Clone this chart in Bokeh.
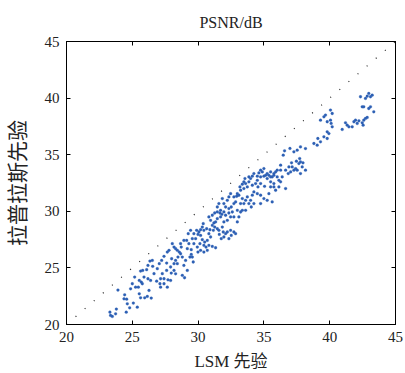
from bokeh.plotting import figure
from bokeh.models import Range1d, LinearAxis, FixedTicker
from bokeh.embed import file_html
from bokeh.resources import INLINE

# LSM prior PSNR (x) vs Laplacian prior PSNR (y)
lsm_psnr = [
    23.30, 23.48, 23.73, 23.35, 23.79, 24.54, 24.80, 25.08, 25.38, 23.91, 24.42, 24.57, 25.53, 25.63, 25.94, 26.14,
    26.44, 25.46, 25.18, 25.53, 25.68, 25.63, 25.79, 26.09, 26.27, 26.19, 26.34, 26.52, 26.19, 26.39, 26.85, 27.10,
    27.15, 27.41, 27.66, 27.71, 27.91, 27.96, 26.90, 27.05, 27.23, 27.41, 27.61, 27.66, 27.79, 27.99, 28.17, 28.29,
    28.17, 28.29, 28.80, 28.97, 28.92, 29.18, 29.05, 28.47, 28.57, 28.72, 28.17, 28.04, 28.29, 28.42, 28.67, 28.92,
    29.13, 29.30, 29.18, 29.48, 29.56, 29.48, 29.68, 29.94, 29.81, 29.68, 30.06, 30.19, 30.32, 30.44, 30.60, 30.82,
    31.08, 31.33, 30.70, 30.95, 30.82, 31.16, 31.26, 31.46, 31.58, 31.91, 32.09, 32.22, 32.47, 32.72, 32.85, 31.96,
    31.84, 31.33, 31.46, 31.71, 31.96, 32.22, 32.47, 32.72, 32.98, 33.10, 33.36, 32.60, 32.34, 32.09, 31.96, 31.71,
    31.46, 31.58, 31.84, 31.96, 32.22, 32.34, 32.47, 32.72, 32.98, 33.23, 33.10, 33.36, 33.48, 33.74, 33.86, 33.99,
    34.12, 34.24, 34.50, 34.75, 35.00, 34.75, 35.25, 35.63, 35.38, 35.51, 35.76, 35.89, 36.14, 36.27, 36.01, 35.76,
    35.51, 35.25, 35.00, 34.75, 34.50, 34.37, 34.12, 33.86, 33.74, 33.61, 33.48, 33.99, 34.24, 34.75, 35.00, 35.25,
    35.51, 35.76, 36.27, 36.39, 36.65, 36.65, 36.90, 37.15, 37.28, 37.41, 37.66, 37.78, 37.91, 38.16, 37.78, 37.53,
    37.03, 36.47, 36.57, 36.98, 37.28, 37.53, 37.78, 38.16, 38.80, 39.05, 39.10, 39.30, 39.56, 39.81, 39.81, 39.94,
    39.30, 39.56, 39.68, 39.81, 40.06, 40.19, 40.11, 40.19, 40.06, 41.20, 41.33, 41.46, 41.71, 41.84, 41.96, 42.09,
    42.22, 42.34, 42.47, 42.59, 42.72, 42.85, 42.97, 43.10, 43.23, 43.10, 42.97, 42.85, 42.72, 42.59, 42.47, 42.54,
    43.35, 40.95,
    30.32, 30.44, 30.65, 30.90, 31.08, 31.20, 30.19, 29.99, 29.89, 30.39, 30.82, 30.95, 31.08, 31.26, 31.46, 31.66,
    31.81, 32.09, 32.34, 32.52, 32.72, 32.85, 32.93, 33.18, 33.36, 33.48, 33.56, 33.86, 34.12, 34.50, 34.62, 34.88,
    35.13, 35.38, 35.63, 35.89, 36.01, 36.27, 34.24, 34.04, 33.61, 33.23, 32.98, 28.67, 28.80, 28.42, 27.91, 27.61,
    27.28, 27.15, 27.41, 26.65, 26.55, 25.89, 25.76, 25.00, 24.87, 25.25, 24.37, 24.62, 29.25, 29.43, 29.56, 29.38,
    29.63, 29.99, 30.19, 30.44, 30.70, 30.50, 30.14, 31.61, 31.76, 32.34, 32.52, 33.23, 33.61, 34.55, 34.75, 35.05,
    35.51, 35.76, 36.14, 36.85, 37.10, 37.47, 37.97, 37.72,
]
laplace_psnr = [
    21.09, 20.71, 20.94, 20.80, 21.36, 21.09, 21.47, 21.89, 21.53, 23.04, 22.62, 22.24, 22.71, 22.36, 22.36, 22.48,
    22.33, 23.30, 24.19, 23.89, 23.75, 24.72, 24.78, 24.84, 23.01, 25.22, 25.60, 25.66, 24.04, 23.89, 23.83, 23.60,
    23.30, 23.60, 23.30, 23.95, 23.89, 24.54, 24.93, 25.37, 25.66, 26.02, 25.43, 26.40, 26.55, 25.81, 25.37, 25.66,
    24.78, 24.48, 24.34, 24.13, 25.22, 24.78, 25.66, 25.96, 26.40, 26.84, 26.84, 27.14, 26.70, 26.55, 27.14, 27.43,
    27.43, 27.14, 26.70, 26.19, 25.96, 26.61, 27.14, 26.84, 27.58, 28.02, 28.17, 27.87, 27.49, 26.99, 26.84, 26.99,
    26.90, 26.78, 27.43, 27.73, 28.02, 28.32, 28.61, 28.46, 28.32, 28.17, 28.02, 28.17, 28.32, 28.17, 28.02, 27.73,
    28.61, 29.06, 29.35, 29.50, 29.06, 29.20, 29.50, 29.50, 29.06, 29.50, 30.09, 29.94, 30.24, 30.38, 29.94, 30.09,
    30.38, 30.68, 31.12, 30.68, 30.97, 31.27, 31.56, 31.27, 31.56, 31.86, 31.42, 31.12, 30.68, 31.27, 30.68, 30.97,
    31.42, 31.71, 31.56, 31.42, 31.12, 30.68, 30.97, 30.83, 31.56, 32.15, 32.45, 31.86, 32.15, 32.60, 33.04, 33.33,
    33.04, 32.89, 33.10, 33.04, 32.74, 32.45, 32.30, 32.60, 32.15, 32.45, 32.01, 32.89, 33.33, 33.63, 33.77, 33.33,
    33.48, 33.18, 33.63, 33.04, 32.01, 33.63, 33.92, 33.92, 33.63, 33.77, 34.22, 34.36, 33.92, 33.63, 33.33, 33.63,
    33.48, 34.96, 35.34, 35.55, 35.25, 35.40, 35.69, 35.54, 35.99, 35.84, 36.43, 36.14, 36.58, 36.43, 37.02, 36.87,
    38.05, 38.35, 38.50, 37.91, 38.05, 37.46, 37.76, 38.64, 38.94, 37.82, 37.61, 37.46, 37.46, 37.91, 38.05, 37.76,
    37.99, 40.12, 39.23, 39.23, 39.97, 40.17, 40.41, 40.12, 40.26, 39.23, 39.08, 38.29, 38.20, 38.05, 37.82, 37.61,
    38.79, 37.23,
    28.61, 28.32, 28.46, 28.37, 28.76, 28.97, 28.37, 27.96, 28.32, 28.91, 29.50, 29.20, 29.65, 29.85, 29.94, 29.85,
    29.73, 29.65, 29.85, 30.38, 30.68, 30.83, 31.33, 32.15, 32.39, 32.60, 32.89, 33.04, 33.10, 33.10, 33.39, 33.48,
    33.18, 33.18, 33.04, 33.48, 33.63, 34.07, 30.68, 30.38, 30.09, 29.94, 30.09, 26.25, 25.96, 25.37, 25.08, 24.78,
    24.49, 24.04, 24.04, 24.49, 25.14, 24.19, 23.60, 23.60, 23.15, 23.30, 22.27, 21.83, 28.02, 28.32, 27.58, 25.96,
    25.52, 26.40, 26.55, 26.40, 26.55, 27.28, 27.14, 27.96, 27.58, 27.58, 27.87, 30.68, 30.97, 32.15, 32.45, 32.21,
    32.60, 32.15, 32.74, 33.33, 34.28, 34.42, 34.28, 34.66,
]
diag_line = [20.0, 45.0]
tick_values = [20, 25, 30, 35, 40, 45]
title_text = "PSNR/dB"
x_label = "LSM 先验"
y_label = "拉普拉斯先验"

SERIF = "Liberation Serif, Noto Sans CJK SC"

p = figure(width=405, height=373, output_backend="svg", toolbar_location=None,
           x_range=Range1d(20, 45), y_range=Range1d(20, 45),
           min_border_left=66, min_border_right=10, min_border_top=8, min_border_bottom=49)
p.title.text = title_text
p.title.align = "center"
p.title.text_font = SERIF
p.title.text_font_size = "16px"
p.title.text_font_style = "normal"
p.title.text_color = "#222222"
p.title.standoff = 22

p.xgrid.visible = False
p.ygrid.visible = False
p.outline_line_color = "black"
p.outline_line_width = 1
p.background_fill_color = "white"
p.border_fill_color = "white"

p.line(diag_line, diag_line, line_color="#222222", line_width=1.2, line_dash="1 11")
p.scatter(lsm_psnr, laplace_psnr, marker="circle", size=2.8, fill_color="#2c5fb4",
          line_color="#2c5fb4", line_width=0.3)

for ax in (p.xaxis[0], p.yaxis[0]):
    ax.ticker = FixedTicker(ticks=tick_values)
    ax.major_tick_in = 4
    ax.major_tick_out = 0
    ax.minor_tick_in = 0
    ax.minor_tick_out = 0
    ax.axis_line_color = "black"
    ax.major_tick_line_color = "black"
    ax.major_label_text_font = SERIF
    ax.major_label_text_font_size = "15px"
    ax.major_label_text_color = "#222222"
    ax.axis_label_text_font = SERIF
    ax.axis_label_text_font_style = "normal"
    ax.axis_label_text_color = "#222222"
    ax.major_label_standoff = 7

p.xaxis[0].axis_label = x_label
p.xaxis[0].axis_label_text_font_size = "17px"
p.xaxis[0].axis_label_standoff = 7
p.yaxis[0].axis_label = y_label
p.yaxis[0].axis_label_text_font_size = "21px"
p.yaxis[0].axis_label_standoff = 12

for loc in ("above", "right"):
    a = LinearAxis(ticker=FixedTicker(ticks=tick_values), major_label_text_color=None,
                   major_tick_in=4, major_tick_out=0, minor_tick_in=0, minor_tick_out=0,
                   axis_line_color="black", major_tick_line_color="black", major_label_standoff=0)
    p.add_layout(a, loc)

open("out.html", "w").write(file_html(p, INLINE))
